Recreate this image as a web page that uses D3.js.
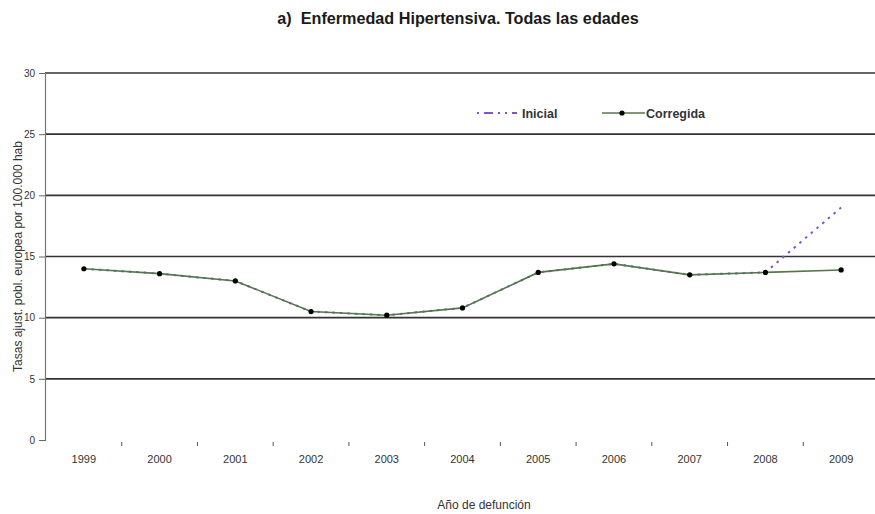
<!DOCTYPE html>
<html>
<head>
<meta charset="utf-8">
<script src="https://cdn.jsdelivr.net/npm/d3@7"></script>
<style>
  html, body { margin: 0; padding: 0; background: #fff; }
  svg { display: block; font-family: "Liberation Sans", Arial, sans-serif; }
</style>
</head>
<body>
<svg id="chart" width="875" height="514"></svg>
<script>
// Hypertensive disease mortality, all ages: age-adjusted rates per 100,000
const years = ["1999","2000","2001","2002","2003","2004","2005","2006","2007","2008","2009"];
const inicial = [14.0, 13.6, 13.0, 10.5, 10.2, 10.8, 13.7, 14.4, 13.5, 13.7, 19.0];
const corregida = [14.0, 13.6, 13.0, 10.5, 10.2, 10.8, 13.7, 14.4, 13.5, 13.7, 13.9];
const yTicks = [0, 5, 10, 15, 20, 25, 30];

const svg = d3.select("#chart");
const plotLeft = 45, plotRight = 879, plotTop = 73, plotBottom = 440;

const x = d3.scaleBand().domain(years).range([plotLeft + 1, plotRight]);
const y = d3.scaleLinear().domain([0, 30]).range([plotBottom, plotTop]);
const cx = d => x(d) + x.bandwidth() / 2;

// Title
svg.append("text")
  .attr("x", 458).attr("y", 24)
  .attr("text-anchor", "middle")
  .attr("font-size", 16.2).attr("font-weight", "bold")
  .attr("fill", "#1a1a1a")
  .attr("xml:space", "preserve")
  .text("a)  Enfermedad Hipertensiva. Todas las edades");

// Horizontal gridlines (no line at zero)
svg.append("g")
  .selectAll("line")
  .data(yTicks.filter(t => t > 0))
  .join("line")
  .attr("x1", plotLeft).attr("x2", 875)
  .attr("y1", d => y(d)).attr("y2", d => y(d))
  .attr("stroke", "#333").attr("stroke-width", 1.6);

// Y axis
const yAxis = svg.append("g")
  .attr("transform", `translate(${plotLeft},0)`)
  .call(d3.axisLeft(y).tickValues(yTicks).tickSize(6).tickPadding(4));
yAxis.select(".domain").attr("stroke", "#777").attr("stroke-width", 1.2);
yAxis.selectAll(".tick line").attr("stroke", "#666");
yAxis.selectAll("text").attr("font-size", 10).attr("fill", "#333");

// X axis: small tick marks at category boundaries, labels centred under each year
const xAxis = svg.append("g").attr("transform", `translate(0,${plotBottom})`);
xAxis.selectAll("line")
  .data(years.slice(1))
  .join("line")
  .attr("x1", d => x(d)).attr("x2", d => x(d))
  .attr("y1", 2).attr("y2", 6)
  .attr("stroke", "#555").attr("stroke-width", 1);
xAxis.selectAll("text")
  .data(years)
  .join("text")
  .attr("x", d => cx(d)).attr("y", 23)
  .attr("text-anchor", "middle")
  .attr("font-size", 11).attr("fill", "#333")
  .text(d => d);

// Axis titles
svg.append("text")
  .attr("transform", `translate(22,${(plotTop + plotBottom) / 2}) rotate(-90)`)
  .attr("text-anchor", "middle")
  .attr("font-size", 12).attr("fill", "#333")
  .text("Tasas ajust. pobl. europea por 100.000 hab");

svg.append("text")
  .attr("x", 484).attr("y", 509)
  .attr("text-anchor", "middle")
  .attr("font-size", 12).attr("fill", "#333")
  .text("Año de defunción");

const line = d3.line().x((d, i) => cx(years[i])).y(d => y(d));

// Series: initial (dashed) underneath, corrected on top
svg.append("path")
  .datum(inicial)
  .attr("d", line)
  .attr("fill", "none")
  .attr("stroke", "#7a58c8").attr("stroke-width", 2)
  .attr("stroke-dasharray", "2.5,5");

svg.append("path")
  .datum(corregida)
  .attr("d", line)
  .attr("fill", "none")
  .attr("stroke", "#53784a").attr("stroke-width", 1.6);

svg.append("g")
  .selectAll("circle")
  .data(corregida)
  .join("circle")
  .attr("cx", (d, i) => cx(years[i]))
  .attr("cy", d => y(d))
  .attr("r", 2.6)
  .attr("fill", "#000");

// Legend
const lg = svg.append("g").attr("transform", "translate(0,113)");
lg.append("line")
  .attr("x1", 477).attr("x2", 517).attr("y1", 0).attr("y2", 0)
  .attr("stroke", "#7a58c8").attr("stroke-width", 2)
  .attr("stroke-dasharray", "2,5,9,5,2,5");
lg.append("text")
  .attr("x", 522).attr("y", 4.5)
  .attr("font-size", 12.5).attr("font-weight", "bold").attr("fill", "#333")
  .text("Inicial");
lg.append("line")
  .attr("x1", 602).attr("x2", 645).attr("y1", 0).attr("y2", 0)
  .attr("stroke", "#53784a").attr("stroke-width", 1.6);
lg.append("circle")
  .attr("cx", 622).attr("cy", 0).attr("r", 2.6).attr("fill", "#000");
lg.append("text")
  .attr("x", 646).attr("y", 4.5)
  .attr("font-size", 12.5).attr("font-weight", "bold").attr("fill", "#333")
  .text("Corregida");
</script>
</body>
</html>
